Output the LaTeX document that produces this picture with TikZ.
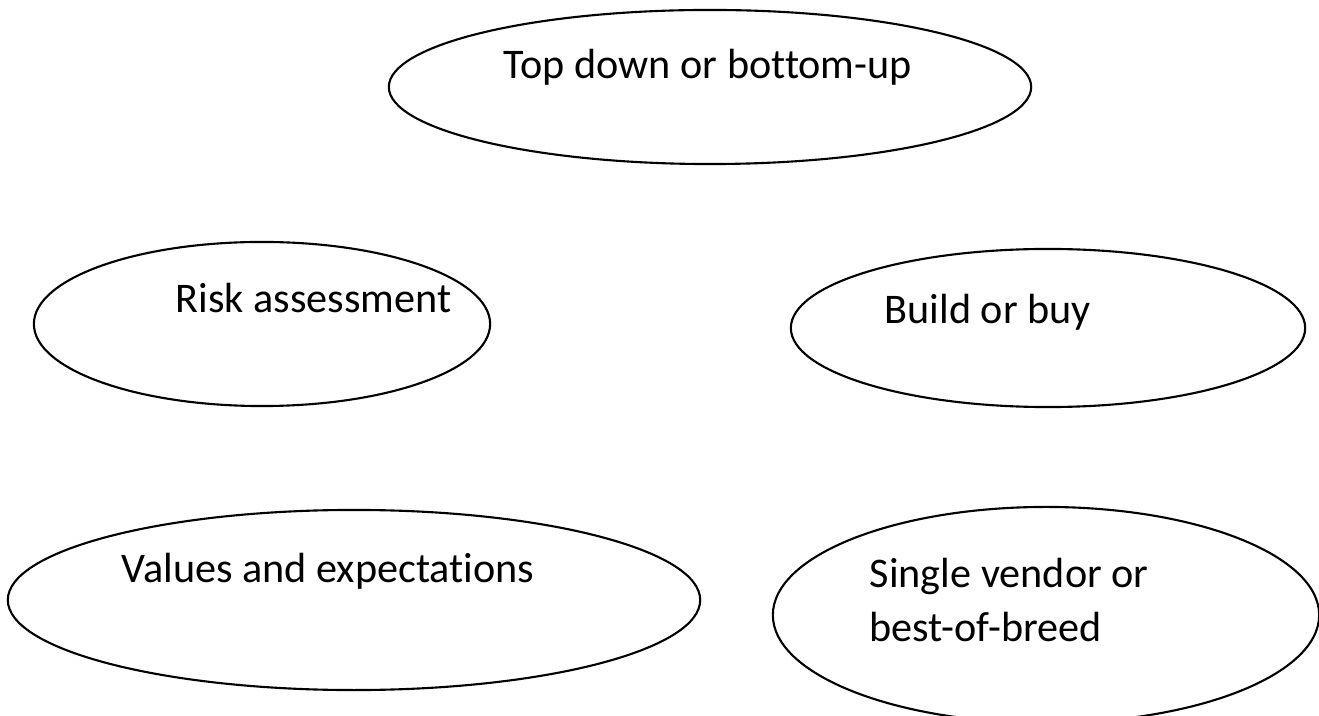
\documentclass[tikz,border=0pt]{standalone}
\usepackage{fontspec}
\setmainfont{Carlito}[Ligatures=CommonOff]
\usepackage{tikz}
\usetikzlibrary{shapes.geometric}

\begin{document}
\begin{tikzpicture}[x=0.01cm, y=-0.01cm,
    bubble/.style={draw, ellipse, line width=.6pt, inner sep=0pt},
    bubbletext/.style={anchor=base west, inner sep=0pt, font=\fontsize{12}{14.5}\selectfont}]
  \useasboundingbox (0,0) rectangle (1319,716);

  % ellipses
  \node[bubble, minimum width=6.42cm, minimum height=1.54cm] (topdown) at (710,87) {};
  \node[bubble, minimum width=4.56cm, minimum height=1.64cm] (risk) at (262,324) {};
  \node[bubble, minimum width=5.14cm, minimum height=1.58cm] (build) at (1048,328) {};
  \node[bubble, minimum width=6.92cm, minimum height=1.80cm] (values) at (354,600) {};
  \node[bubble, minimum width=5.46cm, minimum height=2.16cm] (vendor) at (1046,615) {};

  % texts
  \node[bubbletext] (topdowntxt) at (503,79) {Top down or bottom-up};
  \node[bubbletext] (risktxt) at (175,313) {Risk assessment};
  \node[bubbletext] (buildtxt) at (884,324) {Build or buy};
  \node[bubbletext] (valuestxt) at (121,582) {Values and expectations};
  \node[bubbletext] (vendortxt) at (869,587) {Single vendor or};
  \node[bubbletext] (breedtxt) at (869,641) {best-of-breed};
\end{tikzpicture}
\end{document}
